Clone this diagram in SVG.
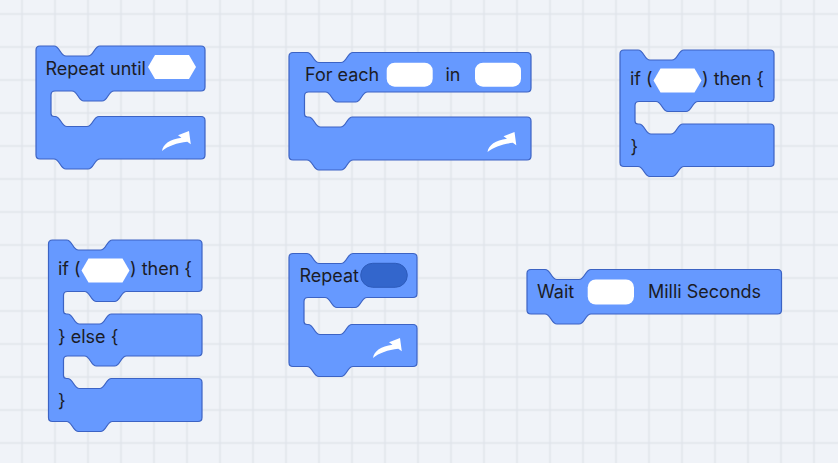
<svg xmlns="http://www.w3.org/2000/svg" width="838" height="463" viewBox="0 0 838 463">
<defs>
<style>
.blk{fill:#6699ff;stroke:#3c63c4;stroke-width:1.2;stroke-linejoin:round}
.t{font-family:Inter,"Noto Sans","Liberation Sans",sans-serif;font-size:18px;fill:#1b1c26}
.in{fill:#ffffff}
.dark{fill:#3366cc;stroke:#2d5bbb;stroke-width:1}
.arr{fill:#ffffff}
</style>
<pattern id="grid" x="5.5" y="-2.5" width="33" height="33" patternUnits="userSpaceOnUse">
<path d="M16.5,0 V33 M0,16.5 H33" stroke="#e0e4ea" stroke-width="1.5" fill="none"/>
</pattern>
<path id="arrow" d="M0,20 C1,13 8,8.5 19.5,6.8 L16,4.3 L27,0 L28.8,13.3 L25.3,10.8 C15,12 6,15 0,20 Z"/>
</defs>
<rect width="838" height="463" fill="#f0f3f8"/>
<rect width="838" height="463" fill="url(#grid)"/>

<g id="repeat-until">
<path class="blk" d="M36,50 Q36,46 40,46 H54 C60,46 60,56 66,56 H88 C94,56 94,46 100,46 H201 Q205,46 205,50 V87 Q205,91 201,91 H114 C108,91 108,101 102,101 H84 C78,101 78,91 72,91 H55 Q51,91 51,95 V113.5 Q51,116.5 54,116.5 H55 C61,116.5 61,126.5 67,126.5 H87 C93,126.5 93,116.5 99,116.5 H201 Q205,116.5 205,120.5 V155 Q205,159 201,159 H100 C94,159 94,169 88,169 H66 C60,169 60,159 54,159 H40 Q36,159 36,155 Z"/>
<text class="t" x="45.5" y="75">Repeat until</text>
<polygon class="in" points="148,67 155,55 189,55 196,67 189,79 155,79"/>
<use href="#arrow" class="arr" transform="translate(162,131)"/>
</g>

<g id="for-each">
<path class="blk" d="M289,56.5 Q289,52.5 293,52.5 H307 C313,52.5 313,62.5 319,62.5 H341 C347,62.5 347,52.5 353,52.5 H527 Q531,52.5 531,56.5 V88 Q531,92 527,92 H367.5 C361.5,92 361.5,102 355.5,102 H337.5 C331.5,102 331.5,92 325.5,92 H308.5 Q304.5,92 304.5,96 V114 Q304.5,117 307.5,117 H308.5 C314.5,117 314.5,127 320.5,127 H340.5 C346.5,127 346.5,117 352.5,117 H527 Q531,117 531,121 V156 Q531,160 527,160 H353 C347,160 347,170 341,170 H319 C313,170 313,160 307,160 H293 Q289,160 289,156 Z"/>
<text class="t" x="305" y="81">For each</text>
<rect class="in" x="386.7" y="62.7" width="46" height="24" rx="8"/>
<text class="t" x="445.5" y="81">in</text>
<rect class="in" x="475" y="62.7" width="46" height="24" rx="8"/>
<use href="#arrow" class="arr" transform="translate(487.5,132)"/>
</g>

<g id="if-then">
<path class="blk" d="M620,54 Q620,50 624,50 H638 C644,50 644,60 650,60 H672 C678,60 678,50 684,50 H770 Q774,50 774,54 V97.5 Q774,101.5 770,101.5 H698 C692,101.5 692,111.5 686,111.5 H668 C662,111.5 662,101.5 656,101.5 H639 Q635,101.5 635,105.5 V121 Q635,124 638,124 H639 C645,124 645,134 651,134 H671 C677,134 677,124 683,124 H770 Q774,124 774,128 V162.5 Q774,166.5 770,166.5 H684 C678,166.5 678,176.5 672,176.5 H650 C644,176.5 644,166.5 638,166.5 H624 Q620,166.5 620,162.5 Z"/>
<text class="t" x="630" y="85">if (</text>
<polygon class="in" points="653.5,80.5 660.5,68.5 694.5,68.5 701.5,80.5 694.5,92.5 660.5,92.5"/>
<text class="t" x="702" y="85">) then {</text>
<text class="t" x="630.5" y="153">}</text>
</g>

<g id="if-else">
<path class="blk" d="M48.5,244 Q48.5,240 52.5,240 H66.5 C72.5,240 72.5,250 78.5,250 H100.5 C106.5,250 106.5,240 112.5,240 H198 Q202,240 202,244 V287.5 Q202,291.5 198,291.5 H126.5 C120.5,291.5 120.5,301.5 114.5,301.5 H96.5 C90.5,301.5 90.5,291.5 84.5,291.5 H67.5 Q63.5,291.5 63.5,295.5 V311 Q63.5,314 66.5,314 H67.5 C73.5,314 73.5,324 79.5,324 H99.5 C105.5,324 105.5,314 111.5,314 H198 Q202,314 202,318 V352 Q202,356 198,356 H126.5 C120.5,356 120.5,366 114.5,366 H96.5 C90.5,366 90.5,356 84.5,356 H67.5 Q63.5,356 63.5,360 V375.5 Q63.5,378.5 66.5,378.5 H67.5 C73.5,378.5 73.5,388.5 79.5,388.5 H99.5 C105.5,388.5 105.5,378.5 111.5,378.5 H198 Q202,378.5 202,382.5 V417.5 Q202,421.5 198,421.5 H112.5 C106.5,421.5 106.5,431.5 100.5,431.5 H78.5 C72.5,431.5 72.5,421.5 66.5,421.5 H52.5 Q48.5,421.5 48.5,417.5 Z"/>
<text class="t" x="58" y="275">if (</text>
<polygon class="in" points="81.5,270.5 88.5,258.5 122.5,258.5 129.5,270.5 122.5,282.5 88.5,282.5"/>
<text class="t" x="130" y="275">) then {</text>
<text class="t" x="58" y="343">} else {</text>
<text class="t" x="58" y="407">}</text>
</g>

<g id="repeat">
<path class="blk" d="M289,257.5 Q289,253.5 293,253.5 H307 C313,253.5 313,263.5 319,263.5 H341 C347,263.5 347,253.5 353,253.5 H413 Q417,253.5 417,257.5 V293.5 Q417,297.5 413,297.5 H367 C361,297.5 361,307.5 355,307.5 H337 C331,307.5 331,297.5 325,297.5 H308 Q304,297.5 304,301.5 V321.5 Q304,324.5 307,324.5 H308 C314,324.5 314,334.5 320,334.5 H340 C346,334.5 346,324.5 352,324.5 H413 Q417,324.5 417,328.5 V362.5 Q417,366.5 413,366.5 H353 C347,366.5 347,376.5 341,376.5 H319 C313,376.5 313,366.5 307,366.5 H293 Q289,366.5 289,362.5 Z"/>
<text class="t" x="299.5" y="282">Repeat</text>
<rect class="dark" x="360.7" y="263.3" width="46.6" height="24" rx="12"/>
<use href="#arrow" class="arr" transform="translate(373,338)"/>
</g>

<g id="wait">
<path class="blk" d="M527,273.5 Q527,269.5 531,269.5 H545 C551,269.5 551,279.5 557,279.5 H579 C585,279.5 585,269.5 591,269.5 H777.5 Q781.5,269.5 781.5,273.5 V310 Q781.5,314 777.5,314 H591 C585,314 585,324 579,324 H557 C551,324 551,314 545,314 H531 Q527,314 527,310 Z"/>
<text class="t" x="537" y="297.5">Wait</text>
<rect class="in" x="587.7" y="279.5" width="46.3" height="25" rx="8"/>
<text class="t" x="648" y="297.5">Milli Seconds</text>
</g>

<g id="connectors"/>
</svg>
